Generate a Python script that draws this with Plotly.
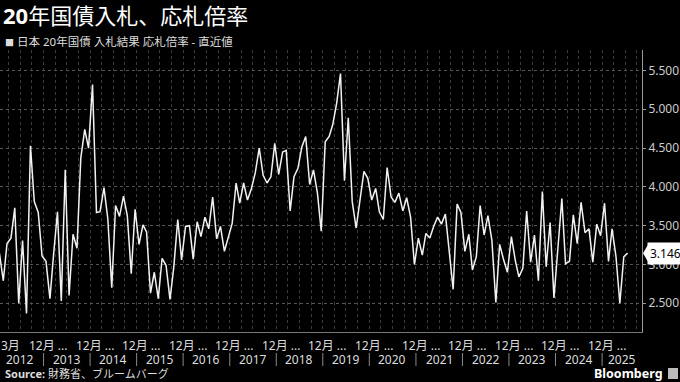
import plotly.graph_objects as go

# ---- data ----
start_year = 2012
start_month = 1
ratios = [
    3.15, 2.79, 3.27, 3.34, 3.73, 2.50, 3.31, 2.37, 4.53, 3.81,
    3.67, 3.11, 3.04, 2.56, 3.12, 3.68, 2.53, 4.22, 2.60, 3.39,
    3.21, 4.37, 4.74, 4.50, 5.32, 3.67, 3.68, 3.99, 3.59, 2.70,
    3.76, 3.62, 3.88, 3.63, 2.88, 3.71, 3.26, 3.51, 3.42, 2.63,
    2.90, 2.56, 3.08, 2.99, 2.55, 2.97, 3.58, 3.06, 3.49, 3.50,
    3.07, 3.55, 3.36, 3.61, 3.46, 3.87, 3.33, 3.49, 3.17, 3.34,
    3.53, 4.05, 3.79, 4.05, 3.83, 3.98, 4.18, 4.50, 4.15, 4.05,
    4.13, 4.56, 4.16, 4.45, 4.47, 3.69, 4.13, 4.24, 4.51, 4.65,
    4.03, 4.22, 3.92, 3.43, 4.58, 4.65, 4.80, 5.08, 5.46, 4.08,
    4.89, 3.81, 3.47, 3.83, 4.20, 4.11, 3.83, 3.98, 3.68, 3.58,
    4.25, 3.87, 3.80, 3.92, 3.69, 3.86, 3.61, 3.00, 3.34, 3.12,
    3.40, 3.34, 3.49, 3.61, 3.52, 3.65, 3.18, 2.68, 3.78, 3.67,
    3.17, 3.39, 2.93, 3.10, 3.76, 3.38, 3.63, 3.31, 2.51, 3.26,
    3.06, 2.90, 3.36, 3.05, 2.84, 2.95, 3.69, 3.03, 3.38, 2.79,
    3.94, 2.97, 3.54, 2.57, 3.21, 3.85, 3.01, 3.04, 3.64, 3.27,
    3.80, 3.41, 3.46, 3.03, 3.52, 3.37, 3.79, 3.04, 3.46, 3.10,
    2.50, 3.10, 3.146,
]
dates = [f"{start_year + (start_month - 1 + k) // 12}-{(start_month - 1 + k) % 12 + 1:02d}-20"
         for k in range(len(ratios))]

y_ticks = [2.5, 3.0, 3.5, 4.0, 4.5, 5.0, 5.5]
month_labels = ["3月"] + ["12月 ..."] * 13
years = list(range(2012, 2026))
year_labels = [str(y) for y in years]
last_label = "3.146"

title_text = "<b>20</b>年国債入札、応札倍率"
legend_text = "日本 20年国債 入札結果 応札倍率 - 直近値"
source_text = "<b>Source:</b> 財務省、ブルームバーグ"

# ---- layout helpers ----
W, H = 680, 382
ML, MR, MT, MB = 0, 38, 50, 10
PW = W - ML - MR
PH = H - MT - MB
def py(pix):  # pixel y -> paper y
    return (H - MB - pix) / PH
def px(pix):  # pixel x -> paper x
    return (pix - ML) / PW

x_range = ["2012-01-25", "2025-11-10"]
y_range = [2.130, 5.764]
dom_bottom = py(332)
val_per_px = (y_range[1] - y_range[0]) / (332 - 50)

month_tick_pos = ["2012-04-20"] + [f"{y}-02-10" for y in years[1:]]
year_tick_pos = [f"{y}-07-01" for y in years[:-1]] + ["2025-06-04"]

FONT = "Noto Sans, Noto Sans CJK JP, sans-serif"
TICKFONT = dict(size=12, color="#dddddd", family=FONT)

fig = go.Figure()
fig.add_trace(go.Scatter(x=dates, y=ratios, mode="lines",
                         line=dict(color="#f2f2f2", width=1.5),
                         hoverinfo="skip", showlegend=False))

shapes = []
for y in years[1:]:
    shapes.append(dict(type="line", xref="x", yref="paper",
                       x0=f"{y}-01-01", x1=f"{y}-01-01",
                       y0=py(353), y1=py(366),
                       line=dict(color="#8a8a8a", width=1)))
# pointer of the last-value tag
lv = ratios[-1]
shapes.append(dict(type="path", xref="paper", yref="y",
                   path=(f"M {px(643)} {lv} L {px(648)} {lv + 8.5 * val_per_px} "
                         f"L {px(648)} {lv - 8.5 * val_per_px} Z"),
                   fillcolor="#ffffff", line=dict(width=0)))
# Bloomberg logo mark
shapes.append(dict(type="rect", xref="paper", yref="paper",
                   x0=px(668), x1=px(678), y0=py(379), y1=py(368),
                   fillcolor="#bbbbbb", line=dict(width=0)))

annotations = [
    dict(text=title_text, x=0, y=py(15), xref="paper", yref="paper",
         xanchor="left", yanchor="middle", xshift=1, showarrow=False,
         font=dict(size=22, color="#ffffff", family=FONT)),
    dict(text="<span style='font-size:9px'>■</span> " + legend_text, x=0, y=py(42),
         xref="paper", yref="paper", xanchor="left", yanchor="middle", xshift=3,
         showarrow=False, font=dict(size=11.5, color="#dddddd", family=FONT)),
    dict(text=source_text, x=0, y=py(374), xref="paper", yref="paper",
         xanchor="left", yanchor="middle", xshift=3, showarrow=False,
         font=dict(size=11, color="#dddddd", family=FONT)),
    dict(text="<b>Bloomberg</b>", x=1, y=py(373), xref="paper", yref="paper",
         xanchor="right", yanchor="middle", xshift=23, showarrow=False,
         font=dict(size=12.5, color="#ffffff", family=FONT)),
    dict(text=last_label, x=px(647), y=lv, xref="paper", yref="y",
         xanchor="left", yanchor="middle", showarrow=False,
         bgcolor="#ffffff", borderpad=2,
         font=dict(size=12, color="#000000", family=FONT)),
]
# two-row x-axis labels (month row, year row)
for pos, lab in zip(month_tick_pos, month_labels):
    annotations.append(dict(text=lab, x=pos, y=py(345), xref="x", yref="paper",
                            xanchor="center", yanchor="middle", showarrow=False,
                            font=TICKFONT))
for pos, lab in zip(year_tick_pos, year_labels):
    annotations.append(dict(text=lab, x=pos, y=py(359.5), xref="x", yref="paper",
                            xanchor="center", yanchor="middle", showarrow=False,
                            font=TICKFONT))

fig.update_layout(
    width=W, height=H,
    margin=dict(l=ML, r=MR, t=MT, b=MB),
    paper_bgcolor="#000000", plot_bgcolor="#000000",
    showlegend=False,
    font=dict(family=FONT, color="#dddddd"),
    xaxis=dict(type="date", range=x_range, tick0="2012-01-01", dtick="M3",
               showgrid=True, gridcolor="#3c3c3c", griddash="dot", gridwidth=1,
               showticklabels=False, ticks="", showline=True, linecolor="#777777",
               zeroline=False, anchor="y"),
    yaxis=dict(domain=[dom_bottom, 1], range=y_range, side="right",
               tickmode="array", tickvals=y_ticks, tickformat=".3f",
               ticks="outside", ticklen=3, tickcolor="#999999",
               showline=True, linecolor="#999999", linewidth=1,
               showgrid=True, gridcolor="#555555", griddash="dot",
               zeroline=False, tickfont=dict(size=12, color="#cccccc", family=FONT)),
    shapes=shapes,
    annotations=annotations,
)

fig.write_html(
    "out.html",
    config={"displayModeBar": False},
    post_script="document.body.style.margin='0';document.body.style.overflow='hidden';"
                "document.body.style.background='#000';",
)
